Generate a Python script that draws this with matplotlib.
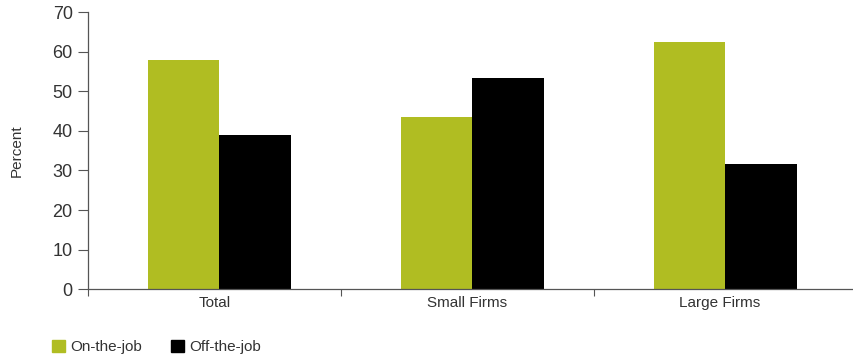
import numpy as np
import matplotlib.pyplot as plt
from matplotlib.patches import Patch

plt.rcParams['font.family'] = ['Liberation Sans', 'DejaVu Sans']

# 数据
categories = ['Total', 'Small Firms', 'Large Firms']
on_the_job = [58, 43.5, 62.5]
off_the_job = [39, 53.3, 31.6]

green = '#b0bd22'
grey = '#333333'

fig = plt.figure(figsize=(8.54, 3.57), dpi=100)
ax = fig.add_axes([0.103, 0.19, 0.897, 0.776])

x = np.arange(len(categories))
w = 0.283
ax.bar(x - w / 2 + 0.02, on_the_job, width=w, color=green, label='On-the-job')
ax.bar(x + w / 2 + 0.02, off_the_job, width=w, color='black', label='Off-the-job')

ax.set_xlim(-0.5, 2.53)
ax.set_ylim(0, 70)
ax.set_yticks(range(0, 71, 10))
ax.set_ylabel('Percent', fontsize=11, color=grey, labelpad=21)

# 分类边界画刻度, 标签放在中间
ax.set_xticks([-0.5, 0.5, 1.5])
ax.set_xticklabels([])
ax.set_xticks(x, minor=True)
ax.set_xticklabels(categories, minor=True)
ax.tick_params(axis='x', which='major', length=5, width=0.8, color='#555555')
ax.tick_params(axis='x', which='minor', length=0, labelsize=11, labelcolor=grey, pad=5)
ax.tick_params(axis='y', length=7, width=0.8, color='#555555', labelsize=13,
               labelcolor=grey, pad=4)

for s in ['top', 'right']:
    ax.spines[s].set_visible(False)
for s in ['left', 'bottom']:
    ax.spines[s].set_color('#555555')
    ax.spines[s].set_linewidth(0.9)

handles = [Patch(color=green, label='On-the-job'), Patch(color='black', label='Off-the-job')]
fig.legend(handles=handles, loc='lower left', bbox_to_anchor=(0.045, -0.03), ncol=2,
           frameon=False, handlelength=0.85, handleheight=0.85, handletextpad=0.35,
           columnspacing=1.9, prop={'size': 11}, labelcolor=grey)

fig.savefig('out.png', dpi=100)
